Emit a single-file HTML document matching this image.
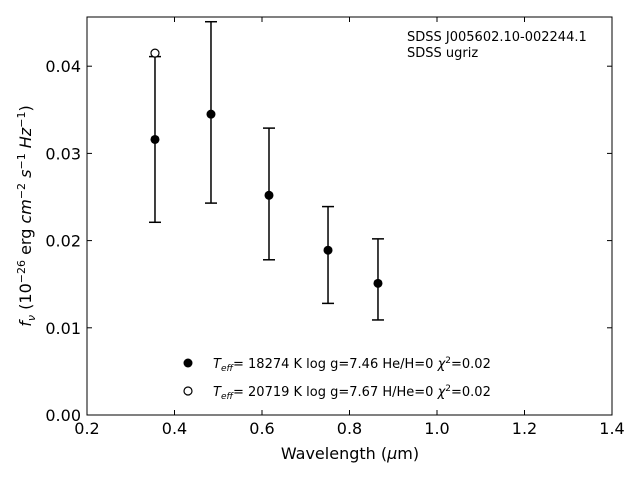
<!DOCTYPE html>
<html><head><meta charset="utf-8"><style>
body{margin:0;background:#fff;}
svg{display:block;font-family:"DejaVu Sans","Liberation Sans",sans-serif;}
</style></head><body>
<svg id="c" width="640" height="480" xmlns="http://www.w3.org/2000/svg">
<rect x="87" y="17" width="525" height="398" fill="none" stroke="#000" stroke-width="1"/>
<g id="ticks"></g>
<g id="marks"></g>
<text x="407" y="41" font-size="13">SDSS J005602.10-002244.1</text>
<text x="407" y="57" font-size="13">SDSS ugriz</text>
<text x="350" y="459" font-size="16" text-anchor="middle">Wavelength (<tspan font-style="italic">μ</tspan>m)</text>
<text transform="translate(31,216) rotate(-90)" font-size="16" text-anchor="middle"><tspan font-style="italic">f</tspan><tspan font-style="italic" font-size="11" dy="4">ν</tspan><tspan dy="-4"> (10</tspan><tspan font-size="11" dy="-6">−26</tspan><tspan dy="6"> erg </tspan><tspan font-style="italic">cm</tspan><tspan font-size="11" dy="-6">−2</tspan><tspan dy="6"> </tspan><tspan font-style="italic">s</tspan><tspan font-size="11" dy="-6">−1</tspan><tspan dy="6"> </tspan><tspan font-style="italic">Hz</tspan><tspan font-size="11" dy="-6">−1</tspan><tspan dy="6">)</tspan></text>
<g>
<circle cx="188" cy="363" r="4.5" fill="#000"/>
<text x="213" y="368" font-size="13"><tspan font-style="italic">T</tspan><tspan font-style="italic" font-size="9" dy="3">eff</tspan><tspan dy="-3">= 18274 K  log g=7.46  He/H=0  </tspan><tspan font-style="italic">χ</tspan><tspan font-size="9" dy="-5">2</tspan><tspan dy="5">=0.02</tspan></text>
<circle cx="188" cy="391" r="4" fill="#fff" stroke="#000" stroke-width="1.2"/>
<text x="213" y="396" font-size="13"><tspan font-style="italic">T</tspan><tspan font-style="italic" font-size="9" dy="3">eff</tspan><tspan dy="-3">= 20719 K  log g=7.67  H/He=0  </tspan><tspan font-style="italic">χ</tspan><tspan font-size="9" dy="-5">2</tspan><tspan dy="5">=0.02</tspan></text>
</g>
</svg>
<script>
const wavelengths=[0.3554,0.4834,0.616,0.7509,0.8651];
const fluxes=[0.0316,0.0345,0.0252,0.0189,0.0151];
const errUpper=[0.0411,0.0451,0.0329,0.0239,0.0202];
const errLower=[0.0221,0.0243,0.0178,0.0128,0.0109];
const modelWave=[0.3554];
const modelFlux=[0.0415];
const xTicks=[0.2,0.4,0.6,0.8,1.0,1.2,1.4];
const xTickLabels=["0.2","0.4","0.6","0.8","1.0","1.2","1.4"];
const yTicks=[0,0.01,0.02,0.03,0.04];
const yTickLabels=["0.00","0.01","0.02","0.03","0.04"];
const NS="http://www.w3.org/2000/svg";
const X=v=>87+(v-0.2)*437.5;
const Y=v=>415-v*8720;
function mk(tag,attrs,parent){const e=document.createElementNS(NS,tag);for(const k in attrs)e.setAttribute(k,attrs[k]);parent.appendChild(e);return e;}
const tg=document.getElementById('ticks'),mg=document.getElementById('marks');
xTicks.forEach((t,i)=>{const x=X(t);
 let l=mk('line',{x1:x,x2:x,y1:415,y2:410,stroke:'#000'},tg);
 
 
 let l2=mk('line',{x1:x,x2:x,y1:17,y2:22,stroke:'#000'},tg);
 
 
 let tx=mk('text',{x:x,y:434,'font-size':16,'text-anchor':'middle'},tg);tx.textContent=xTickLabels[i];
 
 });
yTicks.forEach((t,i)=>{const y=Y(t);
 let l=mk('line',{x1:87,x2:92,y1:y,y2:y,stroke:'#000'},tg);
 
 
 let l2=mk('line',{x1:607,x2:612,y1:y,y2:y,stroke:'#000'},tg);
 
 
 let tx=mk('text',{x:81,y:y+6,'font-size':16,'text-anchor':'end'},tg);tx.textContent=yTickLabels[i];
 
 });
wavelengths.forEach((w,i)=>{const x=X(w);
 const g=mk('g',{},mg);
 
 
 mk('line',{x1:x,x2:x,y1:Y(errUpper[i]),y2:Y(errLower[i]),stroke:'#000','stroke-width':1.5},g);
 mk('line',{x1:x-6,x2:x+6,y1:Y(errUpper[i]),y2:Y(errUpper[i]),stroke:'#000','stroke-width':1.5},g);
 mk('line',{x1:x-6,x2:x+6,y1:Y(errLower[i]),y2:Y(errLower[i]),stroke:'#000','stroke-width':1.5},g);
 const c=mk('circle',{cx:x,cy:Y(fluxes[i]),r:4.5,fill:'#000'},mg);
 
 });
modelWave.forEach((w,i)=>{const c=mk('circle',{cx:X(w),cy:Y(modelFlux[i]),r:4,fill:'#fff',stroke:'#000','stroke-width':1.2},mg);
 
 });
</script>
</body></html>
